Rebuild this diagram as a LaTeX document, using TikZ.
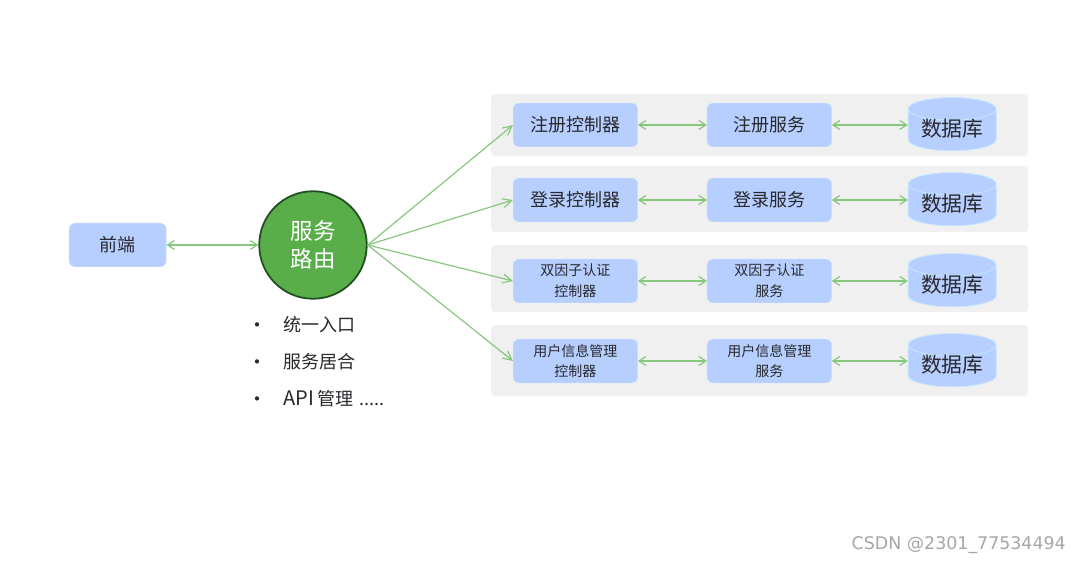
\documentclass[tikz,border=0pt]{standalone}
\usepackage{fontspec}
\setmainfont{Noto Sans CJK SC}
\newfontfamily\markfont{DejaVu Sans}
\usepackage{xcolor}
\usetikzlibrary{shapes.geometric, arrows.meta, positioning}
\definecolor{boxBlue}{RGB}{183, 207, 255}
\definecolor{boxEdge}{RGB}{200, 220, 255}
\definecolor{dbEdge}{RGB}{195, 232, 255}
\definecolor{panelGray}{RGB}{240, 240, 240}
\definecolor{linkGreen}{RGB}{135, 200, 125}
\definecolor{hubGreen}{RGB}{90, 174, 74}
\definecolor{hubEdge}{RGB}{35, 80, 35}
\definecolor{inkGray}{RGB}{40, 40, 45}
\tikzset{
  panel/.style={
    rectangle, rounded corners=4pt,
    fill=panelGray,
    minimum width=537pt, inner sep=0pt,
    anchor=north west
  },
  unit/.style={
    rectangle, rounded corners=6pt,
    draw=boxEdge, fill=boxBlue,
    minimum width=124.5pt, minimum height=43.6pt,
    inner sep=0pt, align=center, text=inkGray,
    font=\fontsize{18}{21}\selectfont
  },
  smallunit/.style={
    unit,
    font=\fontsize{14}{20.7}\selectfont
  },
  store/.style={
    cylinder, shape border rotate=90, aspect=0.36,
    draw=dbEdge, line width=0.8pt, fill=boxBlue,
    minimum width=88pt, minimum height=48pt,
    text height=16pt, text depth=3pt,
    inner sep=0pt, text=inkGray, yshift=-5pt,
    font=\fontsize{20.8}{23}\selectfont
  },
  hub/.style={
    circle, draw=hubEdge, line width=1.8pt, fill=hubGreen,
    minimum size=107.5pt, inner sep=0pt,
    align=center, text=white,
    font=\fontsize{22.5}{28}\selectfont
  },
  bullet/.style={
    anchor=center, inner sep=0pt, text=inkGray,
    font=\fontsize{20}{22}\selectfont
  },
  item/.style={
    anchor=west, inner sep=0pt, text=inkGray,
    font=\fontsize{18}{22}\selectfont
  },
  link/.style={
    {Straight Barb[length=7pt,width=9pt]}-{Straight Barb[length=7pt,width=9pt]},
    line width=1.2pt,
    color=linkGreen
  },
  feed/.style={
    -{Straight Barb[length=9pt,width=9pt]},
    line width=1.2pt,
    color=linkGreen
  }
}
\begin{document}
\begin{tikzpicture}[x=1pt, y=-1pt]
\useasboundingbox (0,0) rectangle (1080,564);

% --- Row panels ---
\node[panel, minimum height=62pt] (panelreg) at (491,94) {};
\node[panel, minimum height=66pt] (panellogin) at (491,166) {};
\node[panel, minimum height=67pt] (paneltwo) at (491,245) {};
\node[panel, minimum height=71pt] (paneluser) at (491,325) {};

% --- Left side ---
\node[hub] (router) at (313,245) {服务\\路由};
\node[unit, minimum width=97pt, left=92pt of router] (front) {前端};

% --- Register row ---
\node[unit, anchor=north west] (ctrlreg) at (513,103) {注册控制器};
\node[unit, right=69pt of ctrlreg] (svcreg) {注册服务};
\node[store, right=76pt of svcreg] (dbreg) {数据库};

% --- Login row ---
\node[unit, below=31pt of ctrlreg] (ctrllogin) {登录控制器};
\node[unit, right=69pt of ctrllogin] (svclogin) {登录服务};
\node[store, right=76pt of svclogin] (dblogin) {数据库};

% --- Two factor row ---
\node[smallunit, below=37pt of ctrllogin] (ctrltwo) {双因子认证\\控制器};
\node[smallunit, right=69pt of ctrltwo] (svctwo) {双因子认证\\服务};
\node[store, right=76pt of svctwo] (dbtwo) {数据库};

% --- User info row ---
\node[smallunit, below=36pt of ctrltwo] (ctrluser) {用户信息管理\\控制器};
\node[smallunit, right=69pt of ctrluser] (svcuser) {用户信息管理\\服务};
\node[store, right=76pt of svcuser] (dbuser) {数据库};

% --- Feature list ---
\node[bullet] (dotone) at (257,328) {•};
\node[bullet, below=37pt of dotone.center, anchor=center] (dottwo) {•};
\node[bullet, below=37pt of dottwo.center, anchor=center] (dotthree) {•};
\node[item] (itemone) at (283,325) {统一入口};
\node[item] (itemtwo) at (283,362) {服务居合};
\node[item] (itemthree) at (283,399) {{\fontsize{20}{22}\selectfont API} 管理\hspace{2pt} .....};

% --- Watermark ---
\node[anchor=east, inner sep=0pt, text=black!35, font=\markfont\fontsize{17.4}{20}\selectfont] (mark) at (1066,545) {CSDN @2301\_77534494};

% --- Hub arrows ---
\draw[link] (front) -- (router);
\draw[feed] (router.east) -- (ctrlreg.west);
\draw[feed] (router.east) -- (ctrllogin.west);
\draw[feed] (router.east) -- (ctrltwo.west);
\draw[feed] (router.east) -- (ctrluser.west);

% --- Row arrows ---
\draw[link] (ctrlreg) -- (svcreg);
\draw[link] (svcreg) -- (svcreg -| dbreg.west);
\draw[link] (ctrllogin) -- (svclogin);
\draw[link] (svclogin) -- (svclogin -| dblogin.west);
\draw[link] (ctrltwo) -- (svctwo);
\draw[link] (svctwo) -- (svctwo -| dbtwo.west);
\draw[link] (ctrluser) -- (svcuser);
\draw[link] (svcuser) -- (svcuser -| dbuser.west);

\end{tikzpicture}
\end{document}
